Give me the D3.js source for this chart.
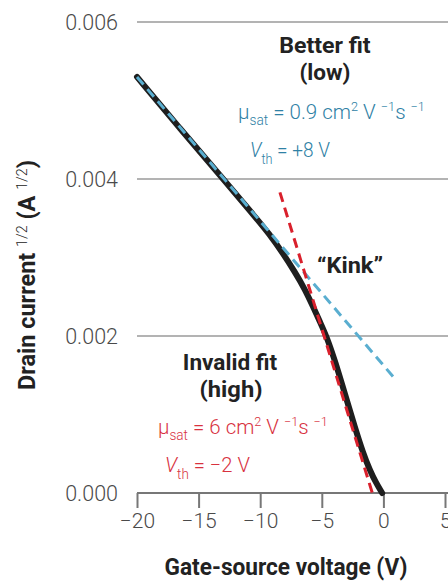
<!DOCTYPE html>
<html>
<head>
<meta charset="utf-8">
<script src="https://cdn.jsdelivr.net/npm/d3@7"></script>
<style>
  body { margin: 0; background: #fff; }
  svg text { font-family: Roboto, "Liberation Sans", sans-serif; }
  .title { font-weight: bold; fill: #222; font-size: 23px; }
  .note { font-weight: bold; fill: #222; font-size: 22px; text-anchor: middle; }
</style>
</head>
<body>
<div id="container"></div>
<script>
(function(){

  // measured curve (gate voltage V, sqrt drain current)
  var vgs = [-20, -16.5, -13, -10.8, -9.2, -8.15, -7.2, -6.35, -5.7, -5.15, -4.6, -3.9, -3.1, -2.3, -1.65, -1.1, -0.6, -0.1]
  var sqrtId = [0.0053, 0.00464, 0.0040, 0.00359, 0.00329, 0.00305, 0.00282, 0.00259, 0.00237, 0.00218, 0.00199, 0.00167, 0.00125, 0.00083, 0.00051, 0.00029, 0.00013, 0]

  // fit lines
  var lowFit = [[-20, 0.0053], [0.8, 0.00148]]
  var highFit = [[-8.4, 0.00383], [-0.9, 0.0]]

  var xTicks = [-20, -15, -10, -5, 0, 5]
  var yTicks = [0.000, 0.002, 0.004, 0.006]

  var width = 448, height = 581
  var svg = d3.select("#container")
    .append("svg")
      .attr("width", width)
      .attr("height", height)

  var x = d3.scaleLinear().domain([-20, 5]).range([137, 445])
  var y = d3.scaleLinear().domain([0, 0.006]).range([493, 22])

  // squeeze a text horizontally around its anchor x, so it reads like a condensed face
  function squeeze(t, w, ax){
    var b = t.node().getBBox()
    var s = w / b.width
    t.attr("transform", "translate(" + ax + ",0) scale(" + s + ",1) translate(" + (-ax) + ",0)")
  }

  // gridlines
  svg.append("g")
    .selectAll("line")
    .data(yTicks.filter(function(d){ return d > 0 }))
    .enter().append("line")
      .attr("x1", x(-20)).attr("x2", width)
      .attr("y1", function(d){ return y(d) }).attr("y2", function(d){ return y(d) })
      .attr("stroke", "#9a9a9a").attr("stroke-width", 1.3)

  // y labels
  svg.append("g")
    .selectAll("text")
    .data(yTicks)
    .enter().append("text")
      .attr("x", 118)
      .attr("y", function(d){ return y(d) })
      .attr("dy", "0.36em")
      .attr("text-anchor", "end")
      .style("fill", "#4a4a4a").style("font-size", "21.5px").style("font-weight", 300)
      .text(function(d){ return d3.format(".3f")(d) })

  // x axis
  var xAxis = svg.append("g")
    .attr("transform", "translate(0," + y(0) + ")")
    .call(d3.axisBottom(x).tickValues(xTicks).tickSize(15).tickPadding(5)
      .tickFormat(function(d){ return d3.format("d")(d).replace("-", "\u2212") }))
  xAxis.select(".domain").attr("stroke", "#777").attr("stroke-width", 2).attr("d", "M" + x(-20) + ",0H" + width)
  xAxis.selectAll(".tick line").attr("stroke", "#777").attr("stroke-width", 2)
  xAxis.selectAll(".tick text")
    .attr("font-family", null).attr("font-size", null)
    .style("fill", "#4a4a4a").style("font-size", "21px").style("font-weight", 300)

  var line = d3.line()
    .x(function(d){ return x(d[0]) })
    .y(function(d){ return y(d[1]) })
    .curve(d3.curveBasis)

  svg.append("path")
    .datum(d3.zip(vgs, sqrtId))
    .attr("d", line)
    .attr("fill", "none")
    .attr("stroke", "#1e1e1e")
    .attr("stroke-width", 6)
    .attr("stroke-linecap", "round")

  var straight = d3.line().x(function(d){ return x(d[0]) }).y(function(d){ return y(d[1]) })

  svg.append("path")
    .datum(lowFit)
    .attr("d", straight)
    .attr("stroke", "#5aaed0")
    .attr("stroke-width", 3)
    .attr("stroke-dasharray", "10,6")

  svg.append("path")
    .datum(highFit)
    .attr("d", straight)
    .attr("stroke", "#d9202c")
    .attr("stroke-width", 3)
    .attr("stroke-dasharray", "10,6")

  // annotations
  function note(txt, cx, by, w){
    var t = svg.append("text").attr("class", "note").attr("x", cx).attr("y", by).text(txt)
    squeeze(t, w, cx)
  }
  note("Better fit", 325, 53, 92)
  note("(low)", 325, 80, 51)
  note("\u201cKink\u201d", 350, 273, 66)
  note("Invalid fit", 230, 370, 95)
  note("(high)", 231, 397, 63)

  function mu(xp, yp, color, val, w){
    var t = svg.append("text").attr("x", xp).attr("y", yp).style("fill", color).style("font-size", "21px").style("font-weight", 300)
    t.append("tspan").text("\u03bc")
    t.append("tspan").attr("dy", 6).style("font-size", "14px").text("sat")
    t.append("tspan").attr("dy", -6).text(" = " + val + " cm")
    t.append("tspan").attr("dy", -8).style("font-size", "13px").text("2")
    t.append("tspan").attr("dy", 8).text(" V ")
    t.append("tspan").attr("dy", -8).style("font-size", "13px").text("\u22121")
    t.append("tspan").attr("dy", 8).text("s ")
    t.append("tspan").attr("dy", -8).style("font-size", "13px").text("\u22121")
    squeeze(t, w, xp)
  }
  function vth(xp, yp, color, val, w){
    var t = svg.append("text").attr("x", xp).attr("y", yp).style("fill", color).style("font-size", "21px").style("font-weight", 300)
    t.append("tspan").style("font-style", "italic").text("V")
    t.append("tspan").attr("dy", 7).style("font-size", "14px").text("th")
    t.append("tspan").attr("dy", -7).text(" = " + val + " V")
    squeeze(t, w, xp)
  }
  mu(238, 119, "#2f81a5", "0.9", 187)
  vth(250, 157, "#2f81a5", "+8", 80)
  mu(158, 434, "#d8323f", "6", 170)
  vth(165, 472, "#d8323f", "\u22122", 85)

  // axis titles
  var xt = svg.append("text").attr("class", "title")
    .attr("x", 286).attr("y", 575).attr("text-anchor", "middle")
    .text("Gate-source voltage (V)")
  squeeze(xt, 243, 286)

  var yt = svg.append("text").attr("class", "title")
    .attr("text-anchor", "middle")
  yt.append("tspan").text("Drain current ")
  yt.append("tspan").attr("dy", -8).style("font-size", "14px").style("font-weight", 300).text("1/2")
  yt.append("tspan").attr("dy", 8).text(" (A ")
  yt.append("tspan").attr("dy", -8).style("font-size", "14px").style("font-weight", 300).text("1/2")
  yt.append("tspan").attr("dy", 8).text(")")
  var yw = yt.node().getBBox().width
  yt.attr("transform", "translate(35,275) rotate(-90) scale(" + (230 / yw) + ",1)")

})()
</script>
</body>
</html>
